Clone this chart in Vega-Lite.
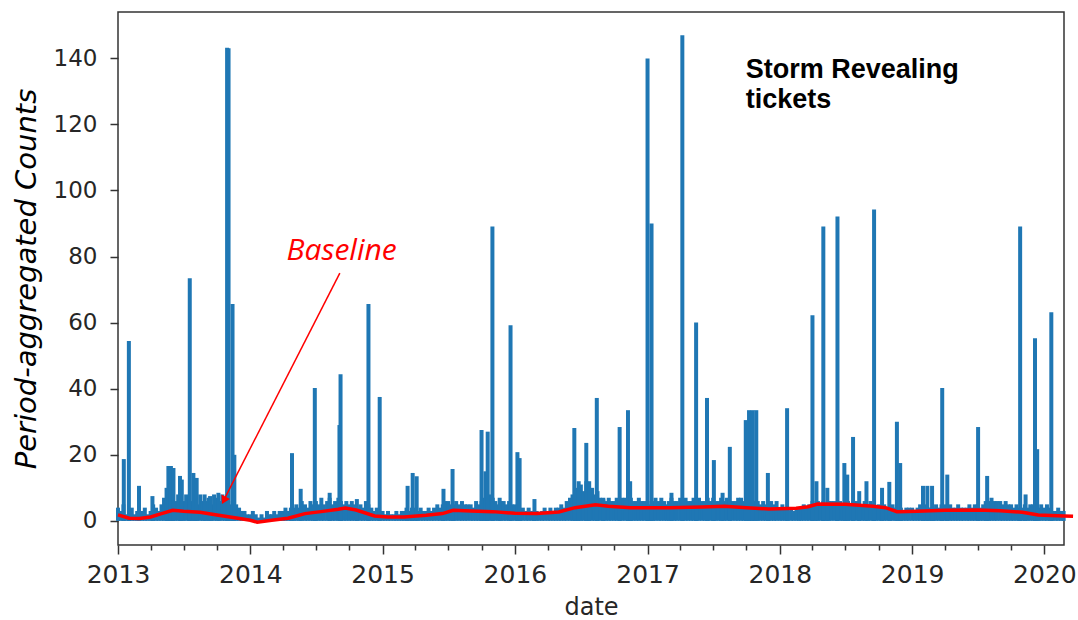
{
"$schema":"https://vega.github.io/schema/vega-lite/v6.json",
"width":946,"height":533,
"autosize":{"type":"none"},
"padding":{"left":118,"top":12,"right":14,"bottom":75},
"background":"white",
"config":{"view":{"stroke":"#333333","strokeWidth":1.5},"font":"DejaVu Sans"},
"datasets":{
"counts":[
{"d":"2013-01-01","v":4},{"d":"2013-01-08","v":3},{"d":"2013-01-16","v":5},{"d":"2013-01-23","v":2},
{"d":"2013-02-01","v":3},{"d":"2013-02-08","v":4},{"d":"2013-02-16","v":2},{"d":"2013-02-23","v":3},
{"d":"2013-03-01","v":2},{"d":"2013-03-08","v":3},{"d":"2013-03-16","v":4},{"d":"2013-03-23","v":2},
{"d":"2013-04-01","v":3},{"d":"2013-04-08","v":5},{"d":"2013-04-16","v":4},{"d":"2013-04-23","v":3},
{"d":"2013-05-01","v":5},{"d":"2013-05-08","v":7},{"d":"2013-05-16","v":6},{"d":"2013-05-23","v":8},
{"d":"2013-06-01","v":7},{"d":"2013-06-08","v":6},{"d":"2013-06-16","v":8},{"d":"2013-06-23","v":5},
{"d":"2013-07-01","v":6},{"d":"2013-07-08","v":8},{"d":"2013-07-16","v":7},{"d":"2013-07-23","v":6},
{"d":"2013-08-01","v":7},{"d":"2013-08-08","v":5},{"d":"2013-08-16","v":8},{"d":"2013-08-23","v":6},
{"d":"2013-09-01","v":6},{"d":"2013-09-08","v":7},{"d":"2013-09-16","v":5},{"d":"2013-09-23","v":8},
{"d":"2013-10-01","v":7},{"d":"2013-10-08","v":6},{"d":"2013-10-16","v":8},{"d":"2013-10-23","v":7},
{"d":"2013-11-01","v":6},{"d":"2013-11-08","v":5},{"d":"2013-11-16","v":4},{"d":"2013-11-23","v":5},
{"d":"2013-12-01","v":4},{"d":"2013-12-08","v":3},{"d":"2013-12-16","v":3},{"d":"2013-12-23","v":2},
{"d":"2014-01-01","v":2},{"d":"2014-01-08","v":3},{"d":"2014-01-16","v":2},{"d":"2014-01-23","v":1},
{"d":"2014-02-01","v":2},{"d":"2014-02-08","v":1},{"d":"2014-02-16","v":3},{"d":"2014-02-23","v":2},
{"d":"2014-03-01","v":2},{"d":"2014-03-08","v":3},{"d":"2014-03-16","v":2},{"d":"2014-03-23","v":3},
{"d":"2014-04-01","v":3},{"d":"2014-04-08","v":4},{"d":"2014-04-16","v":3},{"d":"2014-04-23","v":4},
{"d":"2014-05-01","v":4},{"d":"2014-05-08","v":5},{"d":"2014-05-16","v":4},{"d":"2014-05-23","v":6},
{"d":"2014-06-01","v":5},{"d":"2014-06-08","v":4},{"d":"2014-06-16","v":6},{"d":"2014-06-23","v":5},
{"d":"2014-07-01","v":6},{"d":"2014-07-08","v":5},{"d":"2014-07-16","v":7},{"d":"2014-07-23","v":5},
{"d":"2014-08-01","v":6},{"d":"2014-08-08","v":7},{"d":"2014-08-16","v":5},{"d":"2014-08-23","v":6},
{"d":"2014-09-01","v":7},{"d":"2014-09-08","v":6},{"d":"2014-09-16","v":5},{"d":"2014-09-23","v":6},
{"d":"2014-10-01","v":5},{"d":"2014-10-08","v":6},{"d":"2014-10-16","v":5},{"d":"2014-10-23","v":4},
{"d":"2014-11-01","v":5},{"d":"2014-11-08","v":4},{"d":"2014-11-16","v":6},{"d":"2014-11-23","v":5},
{"d":"2014-12-01","v":4},{"d":"2014-12-08","v":3},{"d":"2014-12-16","v":4},{"d":"2014-12-23","v":3},
{"d":"2015-01-01","v":3},{"d":"2015-01-08","v":2},{"d":"2015-01-16","v":3},{"d":"2015-01-23","v":2},
{"d":"2015-02-01","v":2},{"d":"2015-02-08","v":3},{"d":"2015-02-16","v":2},{"d":"2015-02-23","v":3},
{"d":"2015-03-01","v":3},{"d":"2015-03-08","v":4},{"d":"2015-03-16","v":3},{"d":"2015-03-23","v":4},
{"d":"2015-04-01","v":4},{"d":"2015-04-08","v":3},{"d":"2015-04-16","v":4},{"d":"2015-04-23","v":3},
{"d":"2015-05-01","v":3},{"d":"2015-05-08","v":4},{"d":"2015-05-16","v":3},{"d":"2015-05-23","v":4},
{"d":"2015-06-01","v":5},{"d":"2015-06-08","v":4},{"d":"2015-06-16","v":5},{"d":"2015-06-23","v":6},
{"d":"2015-07-01","v":6},{"d":"2015-07-08","v":5},{"d":"2015-07-16","v":5},{"d":"2015-07-23","v":6},
{"d":"2015-08-01","v":5},{"d":"2015-08-08","v":6},{"d":"2015-08-16","v":5},{"d":"2015-08-23","v":5},
{"d":"2015-09-01","v":5},{"d":"2015-09-08","v":4},{"d":"2015-09-16","v":6},{"d":"2015-09-23","v":5},
{"d":"2015-10-01","v":6},{"d":"2015-10-08","v":7},{"d":"2015-10-16","v":6},{"d":"2015-10-23","v":8},
{"d":"2015-11-01","v":7},{"d":"2015-11-08","v":6},{"d":"2015-11-16","v":5},{"d":"2015-11-23","v":6},
{"d":"2015-12-01","v":6},{"d":"2015-12-08","v":5},{"d":"2015-12-16","v":6},{"d":"2015-12-23","v":5},
{"d":"2016-01-01","v":5},{"d":"2016-01-08","v":4},{"d":"2016-01-16","v":3},{"d":"2016-01-23","v":4},
{"d":"2016-02-01","v":3},{"d":"2016-02-08","v":4},{"d":"2016-02-16","v":3},{"d":"2016-02-23","v":3},
{"d":"2016-03-01","v":3},{"d":"2016-03-08","v":2},{"d":"2016-03-16","v":3},{"d":"2016-03-23","v":4},
{"d":"2016-04-01","v":3},{"d":"2016-04-08","v":4},{"d":"2016-04-16","v":3},{"d":"2016-04-23","v":4},
{"d":"2016-05-01","v":4},{"d":"2016-05-08","v":5},{"d":"2016-05-16","v":4},{"d":"2016-05-23","v":6},
{"d":"2016-06-01","v":7},{"d":"2016-06-08","v":8},{"d":"2016-06-16","v":9},{"d":"2016-06-23","v":10},
{"d":"2016-07-01","v":11},{"d":"2016-07-08","v":9},{"d":"2016-07-16","v":12},{"d":"2016-07-23","v":10},
{"d":"2016-08-01","v":10},{"d":"2016-08-08","v":8},{"d":"2016-08-16","v":9},{"d":"2016-08-23","v":7},
{"d":"2016-09-01","v":7},{"d":"2016-09-08","v":6},{"d":"2016-09-16","v":7},{"d":"2016-09-23","v":6},
{"d":"2016-10-01","v":6},{"d":"2016-10-08","v":7},{"d":"2016-10-16","v":6},{"d":"2016-10-23","v":7},
{"d":"2016-11-01","v":7},{"d":"2016-11-08","v":6},{"d":"2016-11-16","v":7},{"d":"2016-11-23","v":6},
{"d":"2016-12-01","v":6},{"d":"2016-12-08","v":7},{"d":"2016-12-16","v":6},{"d":"2016-12-23","v":6},
{"d":"2017-01-01","v":6},{"d":"2017-01-08","v":5},{"d":"2017-01-16","v":6},{"d":"2017-01-23","v":7},
{"d":"2017-02-01","v":6},{"d":"2017-02-08","v":7},{"d":"2017-02-16","v":6},{"d":"2017-02-23","v":5},
{"d":"2017-03-01","v":6},{"d":"2017-03-08","v":7},{"d":"2017-03-16","v":6},{"d":"2017-03-23","v":6},
{"d":"2017-04-01","v":7},{"d":"2017-04-08","v":6},{"d":"2017-04-16","v":7},{"d":"2017-04-23","v":6},
{"d":"2017-05-01","v":6},{"d":"2017-05-08","v":7},{"d":"2017-05-16","v":6},{"d":"2017-05-23","v":7},
{"d":"2017-06-01","v":6},{"d":"2017-06-08","v":6},{"d":"2017-06-16","v":7},{"d":"2017-06-23","v":6},
{"d":"2017-07-01","v":7},{"d":"2017-07-08","v":6},{"d":"2017-07-16","v":6},{"d":"2017-07-23","v":7},
{"d":"2017-08-01","v":6},{"d":"2017-08-08","v":7},{"d":"2017-08-16","v":6},{"d":"2017-08-23","v":6},
{"d":"2017-09-01","v":6},{"d":"2017-09-08","v":7},{"d":"2017-09-16","v":7},{"d":"2017-09-23","v":6},
{"d":"2017-10-01","v":7},{"d":"2017-10-08","v":6},{"d":"2017-10-16","v":7},{"d":"2017-10-23","v":6},
{"d":"2017-11-01","v":6},{"d":"2017-11-08","v":5},{"d":"2017-11-16","v":6},{"d":"2017-11-23","v":5},
{"d":"2017-12-01","v":5},{"d":"2017-12-08","v":6},{"d":"2017-12-16","v":5},{"d":"2017-12-23","v":6},
{"d":"2018-01-01","v":4},{"d":"2018-01-08","v":5},{"d":"2018-01-16","v":4},{"d":"2018-01-23","v":3},
{"d":"2018-02-01","v":4},{"d":"2018-02-08","v":3},{"d":"2018-02-16","v":4},{"d":"2018-02-23","v":4},
{"d":"2018-03-01","v":4},{"d":"2018-03-08","v":5},{"d":"2018-03-16","v":4},{"d":"2018-03-23","v":5},
{"d":"2018-04-01","v":6},{"d":"2018-04-08","v":5},{"d":"2018-04-16","v":6},{"d":"2018-04-23","v":5},
{"d":"2018-05-01","v":6},{"d":"2018-05-08","v":5},{"d":"2018-05-16","v":6},{"d":"2018-05-23","v":6},
{"d":"2018-06-01","v":6},{"d":"2018-06-08","v":5},{"d":"2018-06-16","v":6},{"d":"2018-06-23","v":5},
{"d":"2018-07-01","v":5},{"d":"2018-07-08","v":6},{"d":"2018-07-16","v":5},{"d":"2018-07-23","v":6},
{"d":"2018-08-01","v":6},{"d":"2018-08-08","v":5},{"d":"2018-08-16","v":5},{"d":"2018-08-23","v":6},
{"d":"2018-09-01","v":5},{"d":"2018-09-08","v":6},{"d":"2018-09-16","v":5},{"d":"2018-09-23","v":4},
{"d":"2018-10-01","v":5},{"d":"2018-10-08","v":4},{"d":"2018-10-16","v":5},{"d":"2018-10-23","v":4},
{"d":"2018-11-01","v":4},{"d":"2018-11-08","v":5},{"d":"2018-11-16","v":4},{"d":"2018-11-23","v":3},
{"d":"2018-12-01","v":4},{"d":"2018-12-08","v":3},{"d":"2018-12-16","v":4},{"d":"2018-12-23","v":4},
{"d":"2019-01-01","v":4},{"d":"2019-01-08","v":3},{"d":"2019-01-16","v":4},{"d":"2019-01-23","v":5},
{"d":"2019-02-01","v":4},{"d":"2019-02-08","v":5},{"d":"2019-02-16","v":4},{"d":"2019-02-23","v":4},
{"d":"2019-03-01","v":4},{"d":"2019-03-08","v":5},{"d":"2019-03-16","v":4},{"d":"2019-03-23","v":5},
{"d":"2019-04-01","v":5},{"d":"2019-04-08","v":4},{"d":"2019-04-16","v":5},{"d":"2019-04-23","v":4},
{"d":"2019-05-01","v":4},{"d":"2019-05-08","v":5},{"d":"2019-05-16","v":4},{"d":"2019-05-23","v":4},
{"d":"2019-06-01","v":4},{"d":"2019-06-08","v":5},{"d":"2019-06-16","v":4},{"d":"2019-06-23","v":5},
{"d":"2019-07-01","v":5},{"d":"2019-07-08","v":4},{"d":"2019-07-16","v":5},{"d":"2019-07-23","v":6},
{"d":"2019-08-01","v":6},{"d":"2019-08-08","v":7},{"d":"2019-08-16","v":6},{"d":"2019-08-23","v":6},
{"d":"2019-09-01","v":6},{"d":"2019-09-08","v":5},{"d":"2019-09-16","v":6},{"d":"2019-09-23","v":5},
{"d":"2019-10-01","v":5},{"d":"2019-10-08","v":4},{"d":"2019-10-16","v":5},{"d":"2019-10-23","v":4},
{"d":"2019-11-01","v":4},{"d":"2019-11-08","v":5},{"d":"2019-11-16","v":4},{"d":"2019-11-23","v":5},
{"d":"2019-12-01","v":5},{"d":"2019-12-08","v":4},{"d":"2019-12-16","v":4},{"d":"2019-12-23","v":5},
{"d":"2020-01-01","v":4},{"d":"2020-01-08","v":5},{"d":"2020-01-16","v":4},{"d":"2020-01-23","v":3},
{"d":"2020-02-01","v":3},{"d":"2020-02-08","v":4},{"d":"2020-02-16","v":3},{"d":"2020-02-23","v":3},
{"d":"2013-01-17","v":18.7},{"d":"2013-01-31","v":54.4},{"d":"2013-02-28","v":10.6},{"d":"2013-04-06","v":7.5},
{"d":"2013-05-15","v":10},{"d":"2013-05-20","v":16.6},{"d":"2013-05-27","v":16.6},{"d":"2013-06-03","v":16},
{"d":"2013-06-21","v":13.6},{"d":"2013-06-26","v":12.5},{"d":"2013-07-18","v":73.4},{"d":"2013-07-28","v":14.5},
{"d":"2013-08-06","v":13},{"d":"2013-08-28","v":8},{"d":"2013-09-12","v":7.5},{"d":"2013-10-05","v":8.5},
{"d":"2013-10-29","v":143.2},{"d":"2013-11-02","v":143},{"d":"2013-11-13","v":65.6},{"d":"2013-11-18","v":20},
{"d":"2014-04-26","v":20.5},{"d":"2014-05-20","v":9.7},{"d":"2014-06-28","v":40.2},{"d":"2014-08-08","v":8.5},
{"d":"2014-09-04","v":29},{"d":"2014-09-07","v":44.4},{"d":"2014-10-22","v":6.6},{"d":"2014-11-23","v":65.6},
{"d":"2014-12-24","v":37.5},
{"d":"2015-03-11","v":10.6},{"d":"2015-03-25","v":14.5},{"d":"2015-04-05","v":13.5},{"d":"2015-06-18","v":9.7},
{"d":"2015-07-13","v":15.7},{"d":"2015-10-01","v":27.5},{"d":"2015-10-12","v":15},{"d":"2015-10-18","v":27},
{"d":"2015-10-31","v":89.1},{"d":"2015-11-20","v":7},{"d":"2015-12-20","v":59.2},{"d":"2016-01-08","v":20.8},
{"d":"2016-01-14","v":19},
{"d":"2016-02-24","v":6.6},{"d":"2016-06-13","v":28.1},{"d":"2016-06-25","v":12},{"d":"2016-07-16","v":23.6},
{"d":"2016-07-24","v":12},{"d":"2016-08-14","v":37.2},{"d":"2016-09-01","v":6.5},{"d":"2016-10-16","v":28.4},
{"d":"2016-11-08","v":33.5},{"d":"2016-11-14","v":12},{"d":"2017-01-01","v":139.9},{"d":"2017-01-12","v":90},
{"d":"2017-03-08","v":8.5},{"d":"2017-04-07","v":147},{"d":"2017-05-15","v":60},{"d":"2017-06-14","v":37.2},
{"d":"2017-07-03","v":18.4},{"d":"2017-07-27","v":8.5},{"d":"2017-08-16","v":22.4},{"d":"2017-09-29","v":30.5},
{"d":"2017-10-08","v":33.5},{"d":"2017-10-18","v":33.5},{"d":"2017-10-28","v":33.5},{"d":"2017-11-29","v":14.5},
{"d":"2018-01-21","v":34.1},{"d":"2018-04-01","v":62.2},{"d":"2018-04-12","v":12},{"d":"2018-05-01","v":89.1},
{"d":"2018-05-12","v":10},{"d":"2018-06-09","v":92.1},{"d":"2018-06-28","v":17.5},{"d":"2018-07-06","v":14},
{"d":"2018-07-22","v":25.4},{"d":"2018-08-08","v":9},{"d":"2018-08-28","v":12},{"d":"2018-09-18","v":94.2},
{"d":"2018-10-10","v":10},{"d":"2018-10-30","v":11.8},{"d":"2018-11-20","v":30},{"d":"2018-11-29","v":17.5},
{"d":"2019-01-31","v":10.6},{"d":"2019-02-12","v":10.6},{"d":"2019-02-25","v":10.6},{"d":"2019-03-25","v":40.2},
{"d":"2019-04-08","v":14},{"d":"2019-07-02","v":28.4},{"d":"2019-07-27","v":13.6},{"d":"2019-10-26","v":89.1},
{"d":"2019-11-10","v":8},{"d":"2019-12-06","v":55.3},{"d":"2019-12-12","v":21.7},{"d":"2020-01-20","v":63.1}
],
"base":[
{"d":"2013-01-01","v":1.8},{"d":"2013-02-01","v":0.8},{"d":"2013-03-01","v":0.7},{"d":"2013-04-01","v":1.2},
{"d":"2013-05-01","v":2.2},{"d":"2013-06-01","v":3.2},{"d":"2013-07-01","v":2.9},{"d":"2013-08-15","v":2.6},
{"d":"2013-10-01","v":1.8},{"d":"2013-11-15","v":1.0},{"d":"2014-01-01","v":0.2},{"d":"2014-01-20","v":-0.4},
{"d":"2014-03-01","v":0.2},{"d":"2014-04-15","v":0.8},{"d":"2014-06-01","v":2.2},{"d":"2014-07-15","v":2.8},
{"d":"2014-09-01","v":3.5},{"d":"2014-09-20","v":3.9},{"d":"2014-10-20","v":3.3},{"d":"2014-12-10","v":1.5},
{"d":"2015-01-15","v":1.2},{"d":"2015-03-01","v":1.2},{"d":"2015-05-01","v":1.7},{"d":"2015-06-15","v":2.2},
{"d":"2015-07-15","v":3.2},{"d":"2015-09-01","v":3.0},{"d":"2015-11-01","v":2.8},{"d":"2016-01-01","v":2.3},
{"d":"2016-03-01","v":2.2},{"d":"2016-05-01","v":2.7},{"d":"2016-06-15","v":4.0},{"d":"2016-08-10","v":4.9},
{"d":"2016-09-15","v":4.4},{"d":"2016-11-15","v":4.0},{"d":"2017-03-01","v":4.0},{"d":"2017-06-01","v":4.2},
{"d":"2017-08-01","v":4.4},{"d":"2017-10-01","v":4.0},{"d":"2017-12-01","v":3.6},{"d":"2018-02-15","v":3.8},
{"d":"2018-03-20","v":4.3},{"d":"2018-04-15","v":5.1},{"d":"2018-07-01","v":5.0},{"d":"2018-09-15","v":4.4},
{"d":"2018-10-20","v":4.0},{"d":"2018-11-20","v":2.8},{"d":"2019-01-15","v":2.9},{"d":"2019-04-01","v":3.2},
{"d":"2019-07-01","v":3.3},{"d":"2019-09-01","v":3.1},{"d":"2019-11-01","v":2.6},{"d":"2019-12-15","v":1.8},
{"d":"2020-02-24","v":1.5},{"d":"2020-03-20","v":1.4}
],
"arrow":[{"d":"2014-09-05","v":75,"d2":"2013-10-21","v2":6.5}],
"head":[{"d":"2013-10-20","v":6.2}],
"labels":[
{"d":"2014-09-10","v":79,"t":"Baseline"}
],
"titles":[
{"d":"2017-09-29","v":134.1,"t":"Storm Revealing"},
{"d":"2017-09-29","v":124.8,"t":"tickets"}
]
},
"layer":[
{"data":{"name":"counts"},
 "mark":{"type":"rule","strokeWidth":4,"color":"#1f77b4"},
 "encoding":{
  "x":{"field":"d","type":"temporal",
   "scale":{"type":"utc","domain":[{"year":2013,"month":1,"date":1,"utc":true},{"year":2020,"month":2,"date":24,"utc":true}],"nice":false},
   "axis":{"title":"date","titleFontSize":24,"titleFontWeight":"normal","titleColor":"#262626","titlePadding":8,
    "labelFontSize":25,"labelColor":"#262626","labelPadding":8,"labelFont":"DejaVu Sans",
    "tickCount":{"interval":"month","step":3},
    "labelExpr":"utcmonth(datum.value)==0 ? utcFormat(datum.value,'%Y') : ''",
    "tickSize":{"condition":{"test":"utcmonth(datum.value)==0","value":9},"value":5},
    "tickColor":"#333333","tickWidth":1.5,"domain":false,"grid":false,"labelOverlap":false,"labelFlush":false,"labelBound":false}},
  "y":{"field":"v","type":"quantitative",
   "scale":{"domain":[-7.3,154],"nice":false,"zero":false},
   "axis":{"values":[0,20,40,60,80,100,120,140],"title":"Period-aggregated Counts","titleFontStyle":"italic","titleFontWeight":"normal","titleFontSize":29,"titleColor":"#000000","titlePadding":12,
    "labelFontSize":23,"labelColor":"#262626","labelPadding":13,"tickSize":8,"tickColor":"#333333","tickWidth":1.5,"domain":false,"grid":false}},
  "y2":{"datum":0}}},
{"data":{"name":"base"},
 "mark":{"type":"line","color":"#ff0000","strokeWidth":3.5,"clip":false},
 "encoding":{"x":{"field":"d","type":"temporal"},"y":{"field":"v","type":"quantitative"}}},
{"data":{"name":"arrow"},
 "mark":{"type":"rule","color":"#ff0000","strokeWidth":1.5},
 "encoding":{"x":{"field":"d","type":"temporal"},"y":{"field":"v","type":"quantitative"},"x2":{"field":"d2"},"y2":{"field":"v2"}}},
{"data":{"name":"head"},
 "mark":{"type":"point","shape":"triangle-down","filled":true,"color":"#ff0000","size":90,"angle":27,"opacity":1},
 "encoding":{"x":{"field":"d","type":"temporal"},"y":{"field":"v","type":"quantitative"}}},
{"data":{"name":"labels"},
 "mark":{"type":"text","font":"Open Sans","fontStyle":"italic","fontSize":30,"color":"#ff0000","align":"center","baseline":"alphabetic"},
 "encoding":{"x":{"field":"d","type":"temporal"},"y":{"field":"v","type":"quantitative"},"text":{"field":"t"}}},
{"data":{"name":"titles"},
 "mark":{"type":"text","font":"Liberation Sans","fontWeight":"bold","fontSize":27,"color":"#000000","align":"left","baseline":"alphabetic"},
 "encoding":{"x":{"field":"d","type":"temporal"},"y":{"field":"v","type":"quantitative"},"text":{"field":"t"}}}
]
}
